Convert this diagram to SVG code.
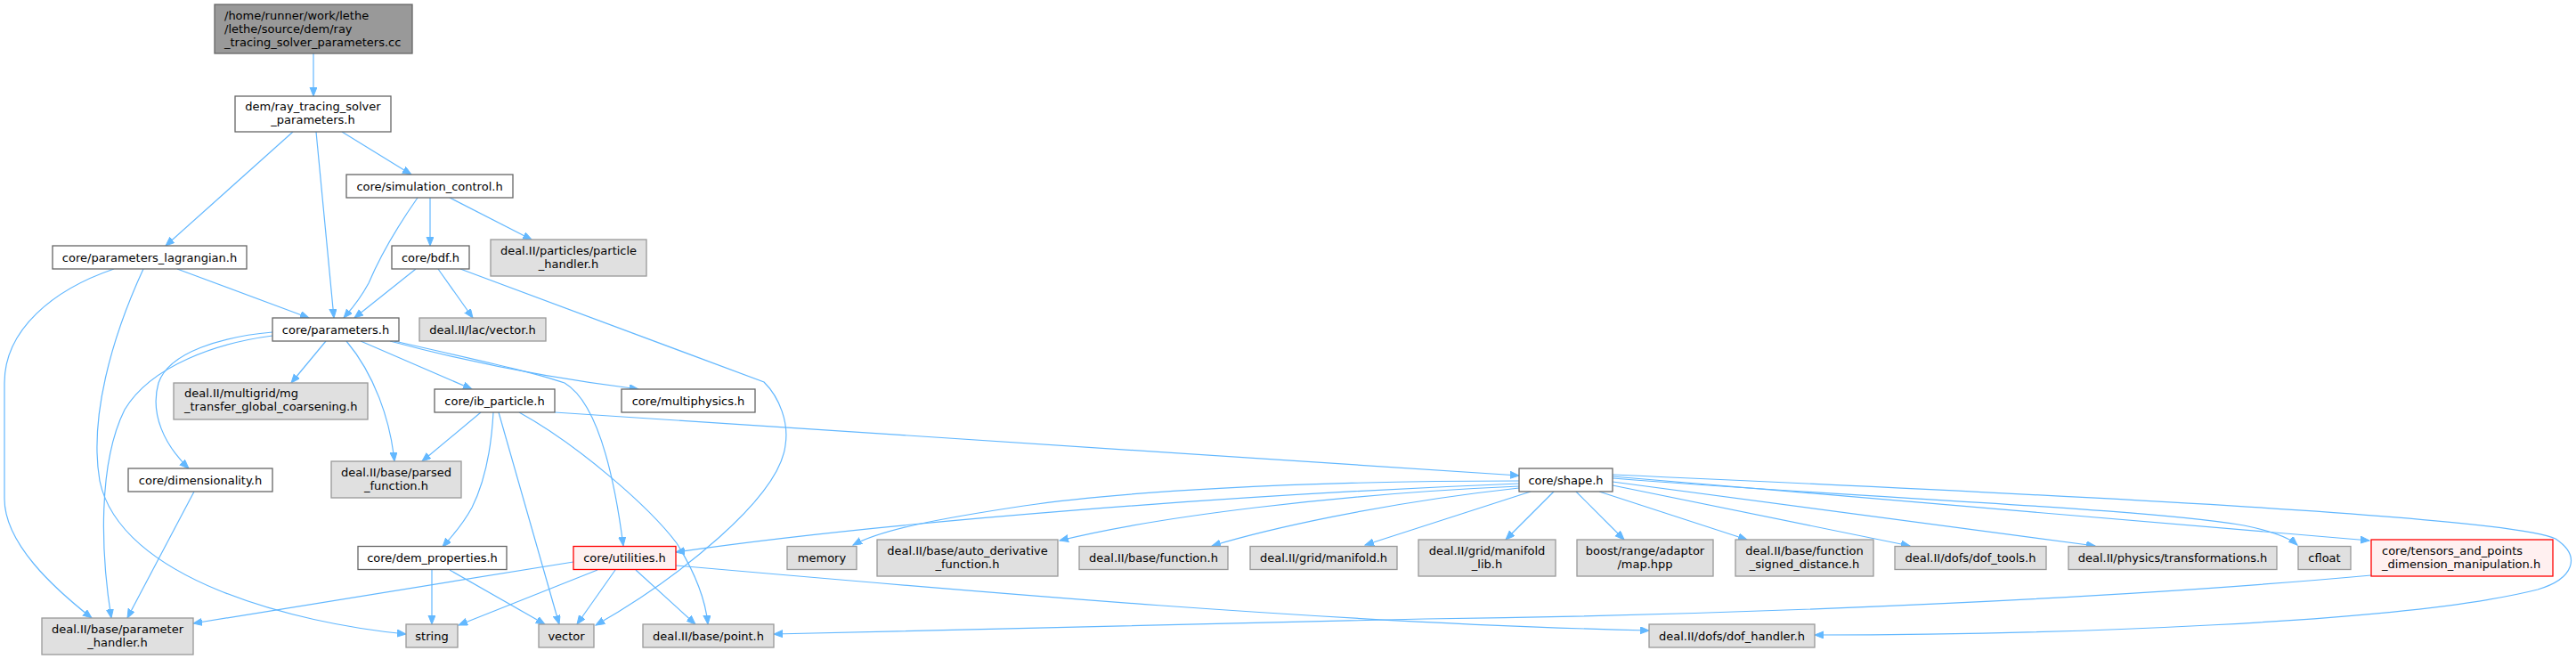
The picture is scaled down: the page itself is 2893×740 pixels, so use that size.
<svg xmlns="http://www.w3.org/2000/svg" width="2893" height="740" viewBox="0 0 2893 740">
<style>
text{font-family:"DejaVu Sans","Liberation Sans",sans-serif;font-size:13px;fill:#000}
.m{text-anchor:middle}
.w{fill:#fff;stroke:#666;stroke-width:1.3}
.g{fill:#e0e0e0;stroke:#999;stroke-width:1.3}
.r{fill:#fff0f0;stroke:#f00;stroke-width:1.3}
.root{fill:#999;stroke:#666;stroke-width:1.3}
#edges path{fill:none;stroke:#63b8ff;stroke-width:1.2;marker-end:url(#ah)}
</style>
<defs>
<marker id="ah" markerUnits="userSpaceOnUse" markerWidth="11" markerHeight="9" refX="10" refY="4" orient="auto" viewBox="0 0 11 9">
<path d="M0,0 L10,4 L0,8 z" fill="#63b8ff" stroke="#63b8ff"/>
</marker>
</defs>
<rect width="2893" height="740" fill="#fff"/>
<g id="edges">
<path d="M352,60 L352,108"/>
<path d="M329,148 L186,276"/>
<path d="M355,148 L375,357"/>
<path d="M384,148 L462,196"/>
<path d="M469,222 C448,252 428,285 414,318 C402,340 392,350 386,357"/>
<path d="M483,222 L483,276"/>
<path d="M505,222 L597,269"/>
<path d="M467,302 L398,357"/>
<path d="M492,302 L531,357"/>
<path d="M517,302 L858,429 C876,447 886,475 882,500 C875,560 760,650 669,702"/>
<path d="M128,302 C60,325 5,370 5,430 L5,560 C5,610 60,660 103,694"/>
<path d="M161,302 C125,380 100,470 112,540 C135,650 330,700 456,712"/>
<path d="M199,302 L347,357"/>
<path d="M306,377 C245,385 170,410 140,460 C110,520 113,620 125,694"/>
<path d="M306,373 C250,378 190,395 178,430 C168,465 185,500 212,526"/>
<path d="M366,383 L327,430"/>
<path d="M389,383 C420,420 438,470 443,518"/>
<path d="M405,383 L530,437"/>
<path d="M438,383 C520,405 620,425 717,437"/>
<path d="M443,383 C530,403 600,418 634,430 C668,450 688,520 700,613"/>
<path d="M540,463 L474,518"/>
<path d="M554,463 C552,500 545,540 530,570 C518,592 505,605 497,614"/>
<path d="M560,463 L628,701"/>
<path d="M583,463 C650,500 730,570 760,610 C785,650 793,680 795,701"/>
<path d="M623,463 L1706,534"/>
<path d="M218,552 L143,694"/>
<path d="M485,640 L485,701"/>
<path d="M505,640 L612,701"/>
<path d="M644,631 L217,700"/>
<path d="M671,640 L515,702"/>
<path d="M691,640 L648,701"/>
<path d="M714,640 L781,701"/>
<path d="M759,635 C1100,665 1500,700 1852,708"/>
<path d="M1706,543 C1400,555 1000,585 759,620"/>
<path d="M1706,540 C1450,540 1250,553 1150,568 C1050,583 990,595 958,612"/>
<path d="M1706,546 C1500,555 1300,580 1190,607"/>
<path d="M1706,548 C1550,565 1420,595 1361,613"/>
<path d="M1719,552 L1533,612"/>
<path d="M1745,552 L1691,606"/>
<path d="M1770,552 L1824,606"/>
<path d="M1796,552 L1962,606"/>
<path d="M1811,545 L2145,613"/>
<path d="M1811,541 L2353,613"/>
<path d="M1811,537 C2100,560 2400,570 2520,590 C2550,596 2570,603 2580,612"/>
<path d="M1811,535 L2661,607"/>
<path d="M1811,533 C2300,555 2820,580 2870,605 C2900,625 2890,650 2850,662 C2700,700 2300,713 2038,713"/>
<path d="M2663,646 C2400,670 2000,690 1600,695 C1300,700 1000,708 869,712"/>
</g>
<g id="n0"><rect class="root" x="241" y="5" width="222" height="55"/><text x="252" y="21.5">/home/runner/work/lethe</text><text x="252" y="36.5">/lethe/source/dem/ray</text><text x="252" y="51.5">_tracing_solver_parameters.cc</text></g>
<g id="n1"><rect class="w" x="264" y="108" width="175" height="40"/><text class="m" x="351.5" y="123.5">dem/ray_tracing_solver</text><text class="m" x="351.5" y="138.5">_parameters.h</text></g>
<g id="n2"><rect class="w" x="389" y="196" width="187" height="26"/><text class="m" x="482.5" y="213.5">core/simulation_control.h</text></g>
<g id="n3"><rect class="w" x="59" y="276" width="218" height="26"/><text class="m" x="168" y="293.5">core/parameters_lagrangian.h</text></g>
<g id="n4"><rect class="w" x="440" y="276" width="87" height="26"/><text class="m" x="483.5" y="293.5">core/bdf.h</text></g>
<g id="n5"><rect class="g" x="551" y="269" width="175" height="41"/><text class="m" x="638.5" y="285.5">deal.II/particles/particle</text><text class="m" x="638.5" y="300.5">_handler.h</text></g>
<g id="n6"><rect class="w" x="306" y="357" width="142" height="26"/><text class="m" x="377" y="374.5">core/parameters.h</text></g>
<g id="n7"><rect class="g" x="471" y="357" width="142" height="26"/><text class="m" x="542" y="374.5">deal.II/lac/vector.h</text></g>
<g id="n8"><rect class="g" x="195" y="430" width="218" height="41"/><text x="207" y="446">deal.II/multigrid/mg</text><text x="207" y="461">_transfer_global_coarsening.h</text></g>
<g id="n9"><rect class="w" x="488" y="437" width="135" height="26"/><text class="m" x="555.5" y="454.5">core/ib_particle.h</text></g>
<g id="n10"><rect class="w" x="698" y="437" width="150" height="26"/><text class="m" x="773" y="454.5">core/multiphysics.h</text></g>
<g id="n11"><rect class="w" x="144" y="526" width="162" height="26"/><text class="m" x="225" y="543.5">core/dimensionality.h</text></g>
<g id="n12"><rect class="g" x="372" y="518" width="146" height="41"/><text class="m" x="445" y="534.5">deal.II/base/parsed</text><text class="m" x="445" y="549.5">_function.h</text></g>
<g id="n13"><rect class="w" x="1706" y="526" width="105" height="26"/><text class="m" x="1758.5" y="543.5">core/shape.h</text></g>
<g id="n14"><rect class="w" x="402" y="613.5" width="167" height="26"/><text class="m" x="485.5" y="631">core/dem_properties.h</text></g>
<g id="n15"><rect class="r" x="644" y="613.5" width="115" height="26"/><text class="m" x="701.5" y="631">core/utilities.h</text></g>
<g id="n16"><rect class="g" x="884" y="613.5" width="78" height="26"/><text class="m" x="923" y="631">memory</text></g>
<g id="n17"><rect class="g" x="985" y="606" width="203" height="41"/><text class="m" x="1086.5" y="622.5">deal.II/base/auto_derivative</text><text class="m" x="1086.5" y="637.5">_function.h</text></g>
<g id="n18"><rect class="g" x="1212" y="613.5" width="167" height="26"/><text class="m" x="1295.5" y="631">deal.II/base/function.h</text></g>
<g id="n19"><rect class="g" x="1404" y="613.5" width="165" height="26"/><text class="m" x="1486.5" y="631">deal.II/grid/manifold.h</text></g>
<g id="n20"><rect class="g" x="1593" y="606" width="154" height="41"/><text class="m" x="1670" y="622.5">deal.II/grid/manifold</text><text class="m" x="1670" y="637.5">_lib.h</text></g>
<g id="n21"><rect class="g" x="1771" y="606" width="153" height="41"/><text class="m" x="1847.5" y="622.5">boost/range/adaptor</text><text class="m" x="1847.5" y="637.5">/map.hpp</text></g>
<g id="n22"><rect class="g" x="1949" y="606" width="155" height="41"/><text class="m" x="2026.5" y="622.5">deal.II/base/function</text><text class="m" x="2026.5" y="637.5">_signed_distance.h</text></g>
<g id="n23"><rect class="g" x="2128" y="613.5" width="170" height="26"/><text class="m" x="2213" y="631">deal.II/dofs/dof_tools.h</text></g>
<g id="n24"><rect class="g" x="2323" y="613.5" width="234" height="26"/><text class="m" x="2440" y="631">deal.II/physics/transformations.h</text></g>
<g id="n25"><rect class="g" x="2581" y="613.5" width="59" height="26"/><text class="m" x="2610.5" y="631">cfloat</text></g>
<g id="n26"><rect class="r" x="2663" y="606" width="204" height="41"/><text x="2675" y="622.5">core/tensors_and_points</text><text x="2675" y="637.5">_dimension_manipulation.h</text></g>
<g id="n27"><rect class="g" x="47" y="694" width="170" height="41"/><text class="m" x="132" y="710.5">deal.II/base/parameter</text><text class="m" x="132" y="725.5">_handler.h</text></g>
<g id="n28"><rect class="g" x="456" y="701" width="58" height="26"/><text class="m" x="485" y="718.5">string</text></g>
<g id="n29"><rect class="g" x="605" y="701" width="62" height="26"/><text class="m" x="636" y="718.5">vector</text></g>
<g id="n30"><rect class="g" x="722" y="701" width="147" height="26"/><text class="m" x="795.5" y="718.5">deal.II/base/point.h</text></g>
<g id="n31"><rect class="g" x="1852" y="701" width="186" height="26"/><text class="m" x="1945" y="718.5">deal.II/dofs/dof_handler.h</text></g>
</svg>
